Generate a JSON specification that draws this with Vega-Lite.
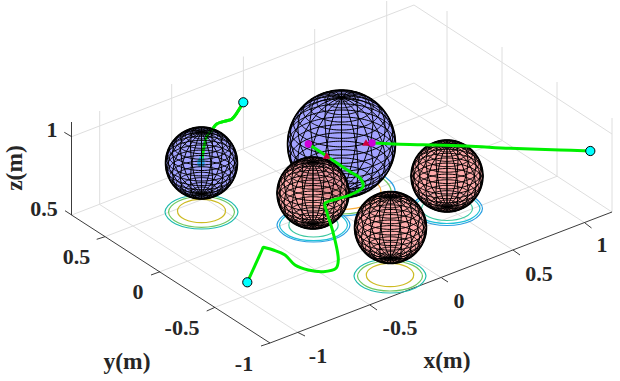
{
"$schema":"https://vega.github.io/schema/vega-lite/v6.json",
"width":620,"height":381,"padding":0,"autosize":{"type":"none"},
"background":"white","view":{"stroke":null},
"datasets":{
"frame":[
{"s":"fx1","o":0,"u":298,"v":332.5},{"s":"fx1","o":1,"u":99.7,"v":204.5},{"s":"fx1","o":2,"u":99.7,"v":111},
{"s":"fx2","o":0,"u":370,"v":305},{"s":"fx2","o":1,"u":171.7,"v":177},{"s":"fx2","o":2,"u":171.7,"v":84},
{"s":"fx3","o":0,"u":441.7,"v":278},{"s":"fx3","o":1,"u":243.4,"v":150},{"s":"fx3","o":2,"u":243.4,"v":56.5},
{"s":"fx4","o":0,"u":513,"v":250},{"s":"fx4","o":1,"u":314.7,"v":122},{"s":"fx4","o":2,"u":314.7,"v":29},
{"s":"fx5","o":0,"u":585,"v":223},{"s":"fx5","o":1,"u":386.7,"v":95},{"s":"fx5","o":2,"u":386.7,"v":1},
{"s":"fy1","o":0,"u":105,"v":236.7},{"s":"fy1","o":1,"u":447,"v":105.7},{"s":"fy1","o":2,"u":447,"v":11},
{"s":"fy2","o":0,"u":160,"v":271.7},{"s":"fy2","o":1,"u":502,"v":140.7},{"s":"fy2","o":2,"u":502,"v":47},
{"s":"fy3","o":0,"u":215,"v":307.3},{"s":"fy3","o":1,"u":557,"v":176.3},{"s":"fy3","o":2,"u":557,"v":82},
{"s":"fy4","o":0,"u":612,"v":212},{"s":"fy4","o":1,"u":612,"v":118},
{"s":"flo","o":0,"u":71.7,"v":215},{"s":"flo","o":1,"u":414,"v":83},{"s":"flo","o":2,"u":612,"v":212},
{"s":"fhi","o":0,"u":71.7,"v":136.7},{"s":"fhi","o":1,"u":414,"v":5},{"s":"fhi","o":2,"u":612,"v":134}
],
"axes":[
{"s":"z","o":0,"u":71.5,"v":122},{"s":"z","o":1,"u":71.5,"v":215},{"s":"z","o":2,"u":270,"v":343},{"s":"z","o":3,"u":612,"v":212},
{"s":"tz1","o":0,"u":71.7,"v":136.7},{"s":"tz1","o":1,"u":64.3,"v":132.3},
{"s":"tz2","o":0,"u":71.7,"v":215},{"s":"tz2","o":1,"u":65,"v":210.7},
{"s":"ty1","o":0,"u":105,"v":236.7},{"s":"ty1","o":1,"u":96.7,"v":239.3},
{"s":"ty2","o":0,"u":160,"v":271.7},{"s":"ty2","o":1,"u":151,"v":275},
{"s":"ty3","o":0,"u":215,"v":307.3},{"s":"ty3","o":1,"u":206.7,"v":311},
{"s":"ty4","o":0,"u":270,"v":343},{"s":"ty4","o":1,"u":261,"v":346},
{"s":"tx1","o":0,"u":298,"v":332.5},{"s":"tx1","o":1,"u":305,"v":336},
{"s":"tx2","o":0,"u":370,"v":305},{"s":"tx2","o":1,"u":377,"v":310},
{"s":"tx3","o":0,"u":441.7,"v":278},{"s":"tx3","o":1,"u":448,"v":282},
{"s":"tx4","o":0,"u":513,"v":250},{"s":"tx4","o":1,"u":520,"v":255},
{"s":"tx5","o":0,"u":585,"v":223},{"s":"tx5","o":1,"u":591.5,"v":228}
],
"rings":[
{"r":"A1","l":"teal","o":0,"u":238,"v":212},{"r":"A1","l":"teal","o":1,"u":227.3,"v":224},{"r":"A1","l":"teal","o":2,"u":201.5,"v":229},{"r":"A1","l":"teal","o":3,"u":175.7,"v":224},{"r":"A1","l":"teal","o":4,"u":165,"v":212},{"r":"A1","l":"teal","o":5,"u":175.7,"v":200},{"r":"A1","l":"teal","o":6,"u":201.5,"v":195},{"r":"A1","l":"teal","o":7,"u":227.3,"v":200},
{"r":"A2","l":"green","o":0,"u":234.5,"v":212},{"r":"A2","l":"green","o":1,"u":224.8,"v":222.8},{"r":"A2","l":"green","o":2,"u":201.5,"v":227.3},{"r":"A2","l":"green","o":3,"u":178.2,"v":222.8},{"r":"A2","l":"green","o":4,"u":168.5,"v":212},{"r":"A2","l":"green","o":5,"u":178.2,"v":201.2},{"r":"A2","l":"green","o":6,"u":201.5,"v":196.7},{"r":"A2","l":"green","o":7,"u":224.8,"v":201.2},
{"r":"A3","l":"yellow","o":0,"u":225.5,"v":211},{"r":"A3","l":"yellow","o":1,"u":218.5,"v":219.3},{"r":"A3","l":"yellow","o":2,"u":201.5,"v":222.7},{"r":"A3","l":"yellow","o":3,"u":184.5,"v":219.3},{"r":"A3","l":"yellow","o":4,"u":177.5,"v":211},{"r":"A3","l":"yellow","o":5,"u":184.5,"v":202.7},{"r":"A3","l":"yellow","o":6,"u":201.5,"v":199.3},{"r":"A3","l":"yellow","o":7,"u":218.5,"v":202.7},
{"r":"B1","l":"teal","o":0,"u":426,"v":276},{"r":"B1","l":"teal","o":1,"u":415.5,"v":288},{"r":"B1","l":"teal","o":2,"u":390,"v":293},{"r":"B1","l":"teal","o":3,"u":364.5,"v":288},{"r":"B1","l":"teal","o":4,"u":354,"v":276},{"r":"B1","l":"teal","o":5,"u":364.5,"v":264},{"r":"B1","l":"teal","o":6,"u":390,"v":259},{"r":"B1","l":"teal","o":7,"u":415.5,"v":264},
{"r":"B2","l":"green","o":0,"u":422.5,"v":276},{"r":"B2","l":"green","o":1,"u":413,"v":286.6},{"r":"B2","l":"green","o":2,"u":390,"v":291},{"r":"B2","l":"green","o":3,"u":367,"v":286.6},{"r":"B2","l":"green","o":4,"u":357.5,"v":276},{"r":"B2","l":"green","o":5,"u":367,"v":265.4},{"r":"B2","l":"green","o":6,"u":390,"v":261},{"r":"B2","l":"green","o":7,"u":413,"v":265.4},
{"r":"B3","l":"yellow","o":0,"u":413.7,"v":275},{"r":"B3","l":"yellow","o":1,"u":406.8,"v":283.3},{"r":"B3","l":"yellow","o":2,"u":390,"v":286.7},{"r":"B3","l":"yellow","o":3,"u":373.2,"v":283.3},{"r":"B3","l":"yellow","o":4,"u":366.3,"v":275},{"r":"B3","l":"yellow","o":5,"u":373.2,"v":266.7},{"r":"B3","l":"yellow","o":6,"u":390,"v":263.3},{"r":"B3","l":"yellow","o":7,"u":406.8,"v":266.7},
{"r":"C1","l":"blue","o":0,"u":482.5,"v":208.5},{"r":"C1","l":"blue","o":1,"u":472.1,"v":220.5},{"r":"C1","l":"blue","o":2,"u":447,"v":225.5},{"r":"C1","l":"blue","o":3,"u":421.9,"v":220.5},{"r":"C1","l":"blue","o":4,"u":411.5,"v":208.5},{"r":"C1","l":"blue","o":5,"u":421.9,"v":196.5},{"r":"C1","l":"blue","o":6,"u":447,"v":191.5},{"r":"C1","l":"blue","o":7,"u":472.1,"v":196.5},
{"r":"C2","l":"cyan","o":0,"u":480,"v":208.5},{"r":"C2","l":"cyan","o":1,"u":470.3,"v":219.1},{"r":"C2","l":"cyan","o":2,"u":447,"v":223.5},{"r":"C2","l":"cyan","o":3,"u":423.7,"v":219.1},{"r":"C2","l":"cyan","o":4,"u":414,"v":208.5},{"r":"C2","l":"cyan","o":5,"u":423.7,"v":197.9},{"r":"C2","l":"cyan","o":6,"u":447,"v":193.5},{"r":"C2","l":"cyan","o":7,"u":470.3,"v":197.9},
{"r":"C3","l":"mint","o":0,"u":472.5,"v":208.5},{"r":"C3","l":"mint","o":1,"u":465,"v":217},{"r":"C3","l":"mint","o":2,"u":447,"v":220.5},{"r":"C3","l":"mint","o":3,"u":429,"v":217},{"r":"C3","l":"mint","o":4,"u":421.5,"v":208.5},{"r":"C3","l":"mint","o":5,"u":429,"v":200},{"r":"C3","l":"mint","o":6,"u":447,"v":196.5},{"r":"C3","l":"mint","o":7,"u":465,"v":200},
{"r":"D1","l":"blue","o":0,"u":350,"v":225},{"r":"D1","l":"blue","o":1,"u":339.3,"v":237},{"r":"D1","l":"blue","o":2,"u":313.5,"v":242},{"r":"D1","l":"blue","o":3,"u":287.7,"v":237},{"r":"D1","l":"blue","o":4,"u":277,"v":225},{"r":"D1","l":"blue","o":5,"u":287.7,"v":213},{"r":"D1","l":"blue","o":6,"u":313.5,"v":208},{"r":"D1","l":"blue","o":7,"u":339.3,"v":213},
{"r":"D2","l":"cyan","o":0,"u":347.5,"v":225},{"r":"D2","l":"cyan","o":1,"u":337.5,"v":236.1},{"r":"D2","l":"cyan","o":2,"u":313.5,"v":240.7},{"r":"D2","l":"cyan","o":3,"u":289.5,"v":236.1},{"r":"D2","l":"cyan","o":4,"u":279.5,"v":225},{"r":"D2","l":"cyan","o":5,"u":289.5,"v":213.9},{"r":"D2","l":"cyan","o":6,"u":313.5,"v":209.3},{"r":"D2","l":"cyan","o":7,"u":337.5,"v":213.9},
{"r":"D3","l":"mint","o":0,"u":338.2,"v":225},{"r":"D3","l":"mint","o":1,"u":331,"v":233.5},{"r":"D3","l":"mint","o":2,"u":313.5,"v":237},{"r":"D3","l":"mint","o":3,"u":296,"v":233.5},{"r":"D3","l":"mint","o":4,"u":288.8,"v":225},{"r":"D3","l":"mint","o":5,"u":296,"v":216.5},{"r":"D3","l":"mint","o":6,"u":313.5,"v":213},{"r":"D3","l":"mint","o":7,"u":331,"v":216.5},
{"r":"E1","l":"blue","o":0,"u":395,"v":191},{"r":"E1","l":"blue","o":1,"u":379.2,"v":208.7},{"r":"E1","l":"blue","o":2,"u":341,"v":216},{"r":"E1","l":"blue","o":3,"u":302.8,"v":208.7},{"r":"E1","l":"blue","o":4,"u":287,"v":191},{"r":"E1","l":"blue","o":5,"u":302.8,"v":173.3},{"r":"E1","l":"blue","o":6,"u":341,"v":166},{"r":"E1","l":"blue","o":7,"u":379.2,"v":173.3},
{"r":"E2","l":"green","o":0,"u":391,"v":191},{"r":"E2","l":"green","o":1,"u":376.4,"v":207.3},{"r":"E2","l":"green","o":2,"u":341,"v":214},{"r":"E2","l":"green","o":3,"u":305.6,"v":207.3},{"r":"E2","l":"green","o":4,"u":291,"v":191},{"r":"E2","l":"green","o":5,"u":305.6,"v":174.7},{"r":"E2","l":"green","o":6,"u":341,"v":168},{"r":"E2","l":"green","o":7,"u":376.4,"v":174.7},
{"r":"E3","l":"orange","o":0,"u":381,"v":191},{"r":"E3","l":"orange","o":1,"u":369.3,"v":204.1},{"r":"E3","l":"orange","o":2,"u":341,"v":209.5},{"r":"E3","l":"orange","o":3,"u":312.7,"v":204.1},{"r":"E3","l":"orange","o":4,"u":301,"v":191},{"r":"E3","l":"orange","o":5,"u":312.7,"v":177.9},{"r":"E3","l":"orange","o":6,"u":341,"v":172.5},{"r":"E3","l":"orange","o":7,"u":369.3,"v":177.9}
],
"paths":[
{"t":"T1","o":0,"u":243.3,"v":102.3},{"t":"T1","o":1,"u":231.7,"v":119.3},{"t":"T1","o":2,"u":226.7,"v":120.7},{"t":"T1","o":3,"u":216.7,"v":124},{"t":"T1","o":4,"u":213.3,"v":128},{"t":"T1","o":5,"u":206.7,"v":136.7},{"t":"T1","o":6,"u":204,"v":146.7},{"t":"T1","o":7,"u":202.7,"v":155},{"t":"T1","o":8,"u":201.5,"v":163},
{"t":"T2","o":0,"u":590.3,"v":151},{"t":"T2","o":1,"u":560,"v":150},{"t":"T2","o":2,"u":510,"v":148.3},{"t":"T2","o":3,"u":466.7,"v":146},{"t":"T2","o":4,"u":423,"v":144.7},{"t":"T2","o":5,"u":393,"v":144},{"t":"T2","o":6,"u":373,"v":143},
{"t":"T3","o":0,"u":247.3,"v":282.3},{"t":"T3","o":0.5,"u":262,"v":250},{"t":"T3","o":1,"u":263.3,"v":247.3},{"t":"T3","o":1.5,"u":265.5,"v":247.8},{"t":"T3","o":2,"u":273.3,"v":250},{"t":"T3","o":3,"u":285,"v":255},{"t":"T3","o":4,"u":295,"v":265},{"t":"T3","o":5,"u":308.3,"v":270},{"t":"T3","o":6,"u":323.3,"v":271.7},{"t":"T3","o":7,"u":336,"v":268.3},{"t":"T3","o":8,"u":338.3,"v":260},{"t":"T3","o":9,"u":333.3,"v":233.3},{"t":"T3","o":10,"u":326.7,"v":211.7},{"t":"T3","o":11,"u":325,"v":203.3},{"t":"T3","o":12,"u":333,"v":200},{"t":"T3","o":13,"u":350,"v":195},{"t":"T3","o":14,"u":363,"v":186.7},{"t":"T3","o":15,"u":360,"v":178},{"t":"T3","o":16,"u":350,"v":171.7},{"t":"T3","o":17,"u":328,"v":157},{"t":"T3","o":18,"u":310,"v":145}
],
"marks1":[
{"k":"goal","u":201,"v":163.3},{"k":"ref","u":201,"v":158}
],
"marks2":[
{"k":"goal","u":372,"v":143},{"k":"goal","u":308.3,"v":144},{"k":"ref","u":366,"v":142.5},{"k":"ref","u":326.7,"v":155.5},
{"k":"start","u":243.3,"v":102.3},{"k":"start","u":590.3,"v":151},{"k":"start","u":247.3,"v":282.3}
],
"labels":[
{"t":"1","u":52,"v":130},{"t":"0.5","u":44,"v":209},
{"t":"0.5","u":76.5,"v":257},{"t":"0","u":138,"v":292},{"t":"-0.5","u":182,"v":328},{"t":"-1","u":244,"v":364},
{"t":"-1","u":318,"v":356},{"t":"-0.5","u":400,"v":328},{"t":"0","u":459,"v":301},{"t":"0.5","u":539,"v":274},{"t":"1","u":602,"v":245}
],
"titles":[
{"t":"y(m)","u":127,"v":362},{"t":"x(m)","u":447,"v":361}
],
"ztitle":[{"t":"z(m)","u":15,"v":168}]
},
"encoding":{
"x":{"field":"u","type":"quantitative","scale":{"domain":[0,620],"nice":false},"axis":null},
"y":{"field":"v","type":"quantitative","scale":{"domain":[381,0],"nice":false},"axis":null}
},
"layer":[
{"data":{"name":"frame"},"mark":{"type":"line","stroke":"#dedede","strokeWidth":1},"encoding":{"detail":{"field":"s"},"order":{"field":"o"}}},
{"data":{"name":"axes"},"mark":{"type":"line","stroke":"#262626","strokeWidth":0.9},"encoding":{"detail":{"field":"s"},"order":{"field":"o"}}},
{"data":{"name":"rings"},"mark":{"type":"line","interpolate":"cardinal-closed","strokeWidth":1.2},"encoding":{"detail":{"field":"r"},"order":{"field":"o"},"color":{"field":"l","type":"nominal","legend":null,"scale":{"domain":["blue","cyan","mint","teal","green","yellow","orange"],"range":["#2b9fe2","#1fc0d8","#3cc8a0","#1fbcae","#71c860","#cdbb23","#f9ae3c"]}}}},
{"data":{"sphere":true},"mark":{"type":"geoshape","fill":"#9999ff","fillOpacity":0.9,"stroke":"#000000","strokeWidth":1.5},"projection":{"type":"orthographic","scale":36,"translate":[201.5,163],"rotate":[0,-30,0]},"encoding":{"x":null,"y":null}},
{"data":{"name":"paths"},"transform":[{"filter":"datum.t==='T1'"}],"mark":{"type":"line","stroke":"#00f000","strokeWidth":3,"interpolate":"catmull-rom"},"encoding":{"order":{"field":"o"}}},
{"data":{"name":"marks1"},"mark":{"type":"point","filled":true,"opacity":1,"size":55},"encoding":{"shape":{"field":"k","legend":null,"scale":{"domain":["goal","ref"],"range":["circle","triangle-up"]}},"color":{"field":"k","legend":null,"scale":{"domain":["goal","ref"],"range":["#d000d8","#d00040"]}}}},
{"data":{"graticule":{"step":[18,9],"extent":[[-180,-90],[180,90]]}},"mark":{"type":"geoshape","filled":false,"stroke":"#000000","strokeWidth":1},"projection":{"type":"orthographic","scale":36,"translate":[201.5,163],"rotate":[0,-30,0],"clipAngle":180},"encoding":{"x":null,"y":null}},
{"data":{"sphere":true},"mark":{"type":"geoshape","fill":"#9999ff","fillOpacity":0.9,"stroke":"#000000","strokeWidth":1.5},"projection":{"type":"orthographic","scale":54,"translate":[341.5,144],"rotate":[0,-30,0]},"encoding":{"x":null,"y":null}},
{"data":{"graticule":{"step":[18,9],"extent":[[-180,-90],[180,90]]}},"mark":{"type":"geoshape","filled":false,"stroke":"#000000","strokeWidth":1},"projection":{"type":"orthographic","scale":54,"translate":[341.5,144],"rotate":[0,-30,0],"clipAngle":180},"encoding":{"x":null,"y":null}},
{"data":{"sphere":true},"mark":{"type":"geoshape","fill":"#ff9f9f","fillOpacity":0.88,"stroke":"#000000","strokeWidth":1.5},"projection":{"type":"orthographic","scale":36,"translate":[447,176],"rotate":[0,-30,0]},"encoding":{"x":null,"y":null}},
{"data":{"graticule":{"step":[18,9],"extent":[[-180,-90],[180,90]]}},"mark":{"type":"geoshape","filled":false,"stroke":"#000000","strokeWidth":1},"projection":{"type":"orthographic","scale":36,"translate":[447,176],"rotate":[0,-30,0],"clipAngle":180},"encoding":{"x":null,"y":null}},
{"data":{"sphere":true},"mark":{"type":"geoshape","fill":"#ff9f9f","fillOpacity":0.88,"stroke":"#000000","strokeWidth":1.5},"projection":{"type":"orthographic","scale":36,"translate":[313,193],"rotate":[0,-30,0]},"encoding":{"x":null,"y":null}},
{"data":{"graticule":{"step":[18,9],"extent":[[-180,-90],[180,90]]}},"mark":{"type":"geoshape","filled":false,"stroke":"#000000","strokeWidth":1},"projection":{"type":"orthographic","scale":36,"translate":[313,193],"rotate":[0,-30,0],"clipAngle":180},"encoding":{"x":null,"y":null}},
{"data":{"sphere":true},"mark":{"type":"geoshape","fill":"#ff9f9f","fillOpacity":0.88,"stroke":"#000000","strokeWidth":1.5},"projection":{"type":"orthographic","scale":36,"translate":[390.5,227.5],"rotate":[0,-30,0]},"encoding":{"x":null,"y":null}},
{"data":{"graticule":{"step":[18,9],"extent":[[-180,-90],[180,90]]}},"mark":{"type":"geoshape","filled":false,"stroke":"#000000","strokeWidth":1},"projection":{"type":"orthographic","scale":36,"translate":[390.5,227.5],"rotate":[0,-30,0],"clipAngle":180},"encoding":{"x":null,"y":null}},
{"data":{"name":"paths"},"transform":[{"filter":"datum.t!=='T1'"}],"mark":{"type":"line","stroke":"#00f000","strokeWidth":3,"interpolate":"catmull-rom"},"encoding":{"detail":{"field":"t"},"order":{"field":"o"}}},
{"data":{"name":"paths"},"transform":[{"filter":"datum.t==='T1' && datum.o<=4"}],"mark":{"type":"line","stroke":"#00f000","strokeWidth":3,"interpolate":"catmull-rom"},"encoding":{"order":{"field":"o"}}},
{"data":{"name":"marks2"},"transform":[{"filter":"datum.k==='goal'"}],"mark":{"type":"point","filled":true,"opacity":1,"size":55,"shape":"circle","color":"#d000d8"}},
{"data":{"name":"marks2"},"transform":[{"filter":"datum.k==='ref'"}],"mark":{"type":"point","filled":true,"opacity":1,"size":60,"shape":"triangle-up","color":"#d00040"}},
{"data":{"name":"marks2"},"transform":[{"filter":"datum.k==='start'"}],"mark":{"type":"point","filled":true,"opacity":1,"size":85,"shape":"circle","fill":"#00ffff","stroke":"#000000","strokeWidth":1}},
{"data":{"name":"labels"},"mark":{"type":"text","font":"Liberation Serif","fontWeight":"bold","fontSize":22,"color":"#262626","align":"center","baseline":"middle"},"encoding":{"text":{"field":"t"}}},
{"data":{"name":"titles"},"mark":{"type":"text","font":"Liberation Serif","fontWeight":"bold","fontSize":23.5,"color":"#262626","align":"center","baseline":"middle"},"encoding":{"text":{"field":"t"}}},
{"data":{"name":"ztitle"},"mark":{"type":"text","font":"Liberation Serif","fontWeight":"bold","fontSize":23.5,"color":"#262626","align":"center","baseline":"middle","angle":270},"encoding":{"text":{"field":"t"}}}
]
}
